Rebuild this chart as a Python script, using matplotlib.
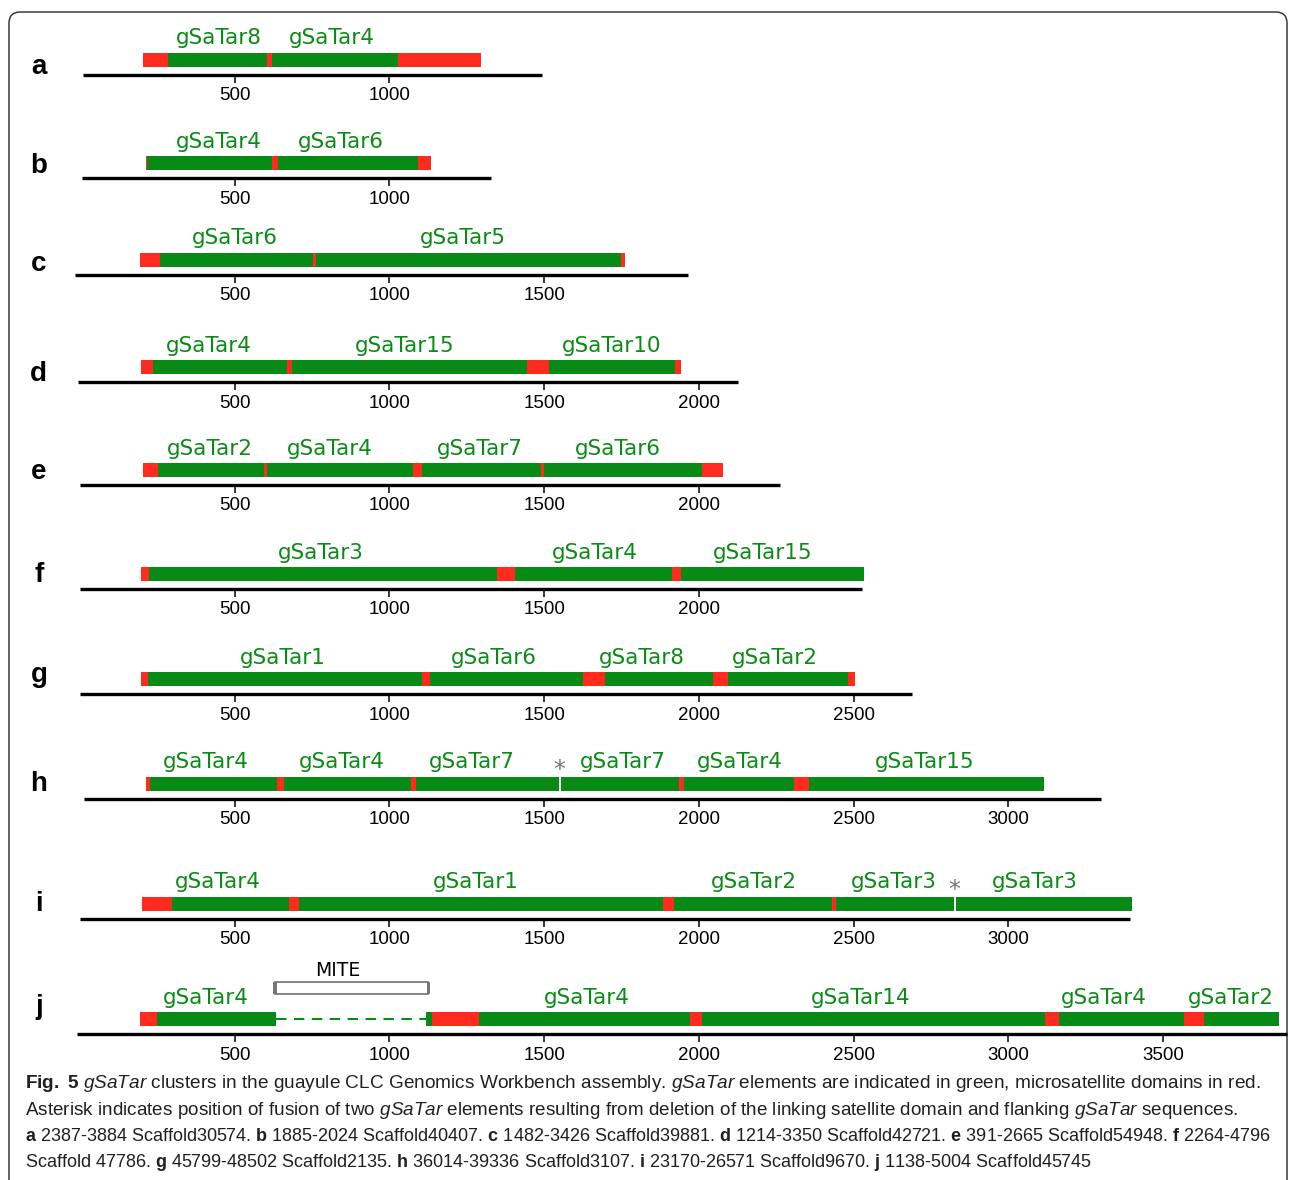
import matplotlib.pyplot as plt
from matplotlib.patches import FancyBboxPatch, Rectangle

plt.rcParams['mathtext.fontset'] = 'custom'
plt.rcParams['mathtext.rm'] = 'Liberation Sans'
plt.rcParams['mathtext.it'] = 'Liberation Sans:italic'
plt.rcParams['mathtext.bf'] = 'Liberation Sans:bold'

GREEN = '#078a16'
RED = '#ff2b1e'
TEXT_GREEN = '#0b8a16'

letters = ['a', 'b', 'c', 'd', 'e', 'f', 'g', 'h', 'i', 'j']

# segment boundaries (bp); r = microsatellite, g = gSaTar, - = missing stretch
edges_a = [203, 283, 604, 619, 1027, 1297]
edges_b = [213, 216, 620, 639, 1093, 1135]
edges_c = [193, 260, 754, 764, 1748, 1763]
edges_d = [197, 237, 668, 684, 1446, 1515, 1923, 1941]
edges_e = [205, 252, 595, 604, 1077, 1106, 1490, 1499, 2010, 2079]
edges_f = [196, 224, 1349, 1406, 1912, 1942, 2535]
edges_g = [196, 219, 1104, 1132, 1625, 1696, 2045, 2093, 2481, 2505]
edges_h = [214, 226, 638, 659, 1069, 1085, 1936, 1953, 2308, 2356, 3117]
edges_i = [199, 297, 674, 709, 1884, 1921, 2431, 2442, 3400]
edges_j = [194, 249, 635, 1118, 1137, 1288, 1970, 2011, 3119, 3164, 3569, 3633, 3875]

kinds_a = 'rgrgr'
kinds_b = 'rgrgr'
kinds_c = 'rgrgr'
kinds_d = 'rgrgrgr'
kinds_e = 'rgrgrgrgr'
kinds_f = 'rgrgrg'
kinds_g = 'rgrgrgrgr'
kinds_h = 'rgrgrgrgrg'
kinds_i = 'rgrgrgrg'
kinds_j = 'rg-grgrgrgrg'

names_a = ['gSaTar8', 'gSaTar4']
names_b = ['gSaTar4', 'gSaTar6']
names_c = ['gSaTar6', 'gSaTar5']
names_d = ['gSaTar4', 'gSaTar15', 'gSaTar10']
names_e = ['gSaTar2', 'gSaTar4', 'gSaTar7', 'gSaTar6']
names_f = ['gSaTar3', 'gSaTar4', 'gSaTar15']
names_g = ['gSaTar1', 'gSaTar6', 'gSaTar8', 'gSaTar2']
names_h = ['gSaTar4', 'gSaTar4', 'gSaTar7', 'gSaTar7', 'gSaTar4', 'gSaTar15']
names_i = ['gSaTar4', 'gSaTar1', 'gSaTar2', 'gSaTar3', 'gSaTar3']
names_j = ['gSaTar4', 'gSaTar4', 'gSaTar14', 'gSaTar4', 'gSaTar2']

name_pos_a = [448, 813]
name_pos_b = [448, 844]
name_pos_c = [500, 1236]
name_pos_d = [416, 1051, 1718]
name_pos_e = [420, 808, 1292, 1738]
name_pos_f = [777, 1663, 2205]
name_pos_g = [656, 1337, 1816, 2246]
name_pos_h = [406, 845, 1268, 1754, 2133, 2731]
name_pos_i = [445, 1278, 2178, 2630, 3087]
name_pos_j = [407, 1639, 2523, 3309, 3721]

# fusion points (asterisks)
fusion_h = [1550]
fusion_i = [2827]

# MITE insertion in j
mite_j = [631, 1126]

# scaffold stretch shown on each ruler
ruler_start = [10, 6, -16, -6, 0, 0, 0, 13, 0, -10]
ruler_end = [1493, 1327, 1965, 2127, 2262, 2527, 2689, 3300, 3394, 3900]

edges = [edges_a, edges_b, edges_c, edges_d, edges_e, edges_f, edges_g, edges_h, edges_i, edges_j]
kinds = [kinds_a, kinds_b, kinds_c, kinds_d, kinds_e, kinds_f, kinds_g, kinds_h, kinds_i, kinds_j]
names = [names_a, names_b, names_c, names_d, names_e, names_f, names_g, names_h, names_i, names_j]
name_pos = [name_pos_a, name_pos_b, name_pos_c, name_pos_d, name_pos_e, name_pos_f,
            name_pos_g, name_pos_h, name_pos_i, name_pos_j]
fusions = {7: fusion_h, 8: fusion_i}

caption = [
    r'$\mathbf{Fig.}$ $\mathbf{5}$ $\mathit{gSaTar}$ clusters in the guayule CLC Genomics Workbench assembly. '
    r'$\mathit{gSaTar}$ elements are indicated in green, microsatellite domains in red.',
    r'Asterisk indicates position of fusion of two $\mathit{gSaTar}$ elements resulting from deletion '
    r'of the linking satellite domain and flanking $\mathit{gSaTar}$ sequences.',
    r'$\mathbf{a}$ 2387-3884 Scaffold30574. $\mathbf{b}$ 1885-2024 Scaffold40407. $\mathbf{c}$ 1482-3426 '
    r'Scaffold39881. $\mathbf{d}$ 1214-3350 Scaffold42721. $\mathbf{e}$ 391-2665 Scaffold54948. $\mathbf{f}$ 2264-4796',
    r'Scaffold 47786. $\mathbf{g}$ 45799-48502 Scaffold2135. $\mathbf{h}$ 36014-39336 Scaffold3107. '
    r'$\mathbf{i}$ 23170-26571 Scaffold9670. $\mathbf{j}$ 1138-5004 Scaffold45745',
]
caption_size = [13.7, 13.6, 13.0, 13.0]

# layout (figure pixels, y down)
bar_y = [59.5, 163, 259.5, 367, 470, 574, 679, 783.5, 903.5, 1019]
letter_y = [67, 166, 264, 374, 472, 575, 675, 784, 904, 1007]
bar_h = 14
W, H = 1290, 1180

fig = plt.figure(figsize=(W / 100, H / 100), dpi=100)

# frame + caption live in a plain pixel axes
bg = fig.add_axes([0, 0, 1, 1])
bg.set_xlim(0, W)
bg.set_ylim(H, 0)
bg.axis('off')
bg.add_patch(FancyBboxPatch((9, 12), 1278, 1250, boxstyle='round,pad=0,rounding_size=11',
                            fc='none', ec='#3a3a3a', lw=1.1))
for k, line in enumerate(caption):
    bg.text(25, 1084 + k * 26.3, line, fontsize=caption_size[k], family='Liberation Sans',
            color='#231f20', ha='left', va='center')

# clusters drawn on a bp scale
ax = fig.add_axes([0, 0, 1, 1])
ax.set_xlim(-258.6, 3910.8)
ax.set_ylim(H, 0)
ax.axis('off')

for p, letter in enumerate(letters):
    yb = bar_y[p]
    ya = yb + 15
    e = edges[p]
    for s, t, kd in zip(e[:-1], e[1:], kinds[p]):
        if kd == '-':
            ax.hlines(yb, s, t, colors=GREEN, lw=1.5, linestyles=(0, (5, 3.6)))
        else:
            ax.barh(yb, t - s, left=s, height=bar_h, color=GREEN if kd == 'g' else RED, lw=0)
    for f in fusions.get(p, []):
        ax.vlines(f, yb - bar_h / 2, yb + bar_h / 2, colors='white', lw=1.4)
        ax.text(f, yb - 13, '*', color='#777777', fontsize=17, ha='center', va='center',
                family='DejaVu Sans')
    for nm, x in zip(names[p], name_pos[p]):
        ax.text(x, yb - 21, nm, color=TEXT_GREEN, fontsize=15.5, ha='center', va='center',
                family='DejaVu Sans')

    # ruler
    ax.hlines(ya, ruler_start[p], ruler_end[p], colors='black', lw=2.4)
    ticks = list(range(500, ruler_end[p] - 100, 500))
    ax.vlines(ticks, ya, ya + 8, colors='black', lw=1.1)
    for t in ticks:
        ax.text(t, ya + 21, str(t), fontsize=13.5, ha='center', va='center',
                family='Liberation Sans', color='black')
    ax.text(-133, letter_y[p], letter, fontsize=20, fontweight='bold', ha='center', va='center',
            family='Liberation Sans', color='black')

# MITE box above the missing stretch in j
yj = bar_y[9]
ax.add_patch(Rectangle((mite_j[0], yj - 37), mite_j[1] - mite_j[0], 12,
                       fc='white', ec='#666666', lw=1.1))
for xm in mite_j:
    ax.add_patch(Rectangle((xm - 6, yj - 37), 12, 12, fc='#777777', ec='none'))
ax.text((mite_j[0] + mite_j[1]) / 2 - 45, yj - 48, 'MITE', fontsize=13.5, ha='center', va='center',
        family='DejaVu Sans', color='black')

fig.savefig('out.png', dpi=100)
